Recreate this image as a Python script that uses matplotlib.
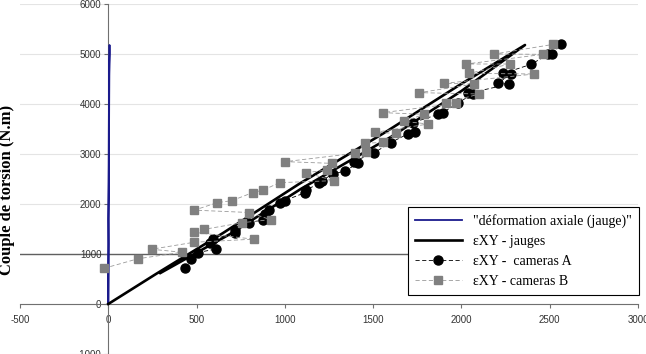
import matplotlib.pyplot as plt

# déformation axiale (jauge) - quasi verticale près de x=0
axiale_x = [0, 1, 2, 1, 3, 4, 5, 6, 8, 7, 5, 3, 1, 0]
axiale_y = [0, 600, 1200, 1700, 2400, 3200, 4000, 4600, 5000, 5180, 4800, 3500, 1800, 0]

# εXY - jauges (charge puis décharge)
jauges_x = [0, 270, 650, 1080, 1580, 1980, 2360, 2000, 1600, 1090, 690, 295]
jauges_y = [0, 600, 1420, 2400, 3460, 4360, 5180, 4260, 3340, 2300, 1400, 620]

# εXY - cameras A
camA_x = [436, 468, 508, 611, 577, 591, 717, 718, 796, 876, 890, 911, 971, 1000,
          1115, 1121, 1194, 1209, 1272, 1341, 1413, 1389, 1507, 1600, 1696, 1738,
          1723, 1870, 1894, 1983, 2064, 2040, 2271, 2206, 2281, 2238, 2394, 2492,
          2511, 2562]
camA_y = [713, 900, 1030, 1100, 1227, 1293, 1413, 1487, 1627, 1680, 1807, 1877,
          2020, 2070, 2227, 2280, 2413, 2467, 2600, 2660, 2813, 2847, 3027, 3230,
          3400, 3433, 3627, 3793, 3827, 4027, 4200, 4213, 4400, 4413, 4600, 4613,
          4793, 4993, 4993, 5193]

# εXY - cameras B
camB_x = [-25, 168, 417, 245, 487, 823, 487, 543, 760, 919, 798, 487, 617, 700,
          817, 879, 970, 1276, 1121, 1241, 1266, 1002, 1398, 1461, 1455, 1553,
          1630, 1511, 1813, 1672, 1790, 1555, 1970, 1913, 2102, 1762, 2072, 1904,
          2413, 2045, 2275, 2026, 2464, 2187, 2521]
camB_y = [713, 905, 1035, 1095, 1235, 1297, 1433, 1493, 1627, 1687, 1830, 1877,
          2027, 2067, 2227, 2280, 2427, 2467, 2627, 2680, 2813, 2847, 3013, 3047,
          3213, 3233, 3413, 3433, 3600, 3653, 3793, 3827, 4013, 4027, 4200, 4227,
          4400, 4413, 4600, 4613, 4800, 4800, 4993, 5000, 5193]

x_ticks = [-500, 0, 500, 1000, 1500, 2000, 2500, 3000]
y_ticks = [-1000, 0, 1000, 2000, 3000, 4000, 5000, 6000]

fig = plt.figure(figsize=(6.46, 3.54), dpi=100)
ax = fig.add_axes([20 / 646, 0, 618 / 646, 350 / 354])
ax.set_xlim(-500, 3000)
ax.set_ylim(-1000, 6000)

# grille horizontale légère
for yv in y_ticks:
    ax.axhline(yv, color='#e4e4e4', linewidth=0.8, zorder=0)
ax.axhline(1000, color='#606060', linewidth=1.0, zorder=1)

ax.plot(axiale_x, axiale_y, color='#1a1a8c', linewidth=1.3, zorder=3,
        label='"déformation axiale (jauge)"')
ax.plot(jauges_x, jauges_y, color='black', linewidth=1.9, zorder=4,
        label='εXY - jauges')
ax.plot(camA_x, camA_y, color='black', linestyle='--', dashes=(5, 3),
        linewidth=0.6, marker='o', markersize=6.5, markerfacecolor='black',
        markeredgecolor='black', zorder=5, label='εXY -  cameras A')
ax.plot(camB_x, camB_y, color='#9a9a9a', linestyle='--', dashes=(5, 3),
        linewidth=0.6, marker='s', markersize=6, markerfacecolor='#808080',
        markeredgecolor='#808080', zorder=5, label='εXY - cameras B')

for s in ['top', 'right']:
    ax.spines[s].set_visible(False)
ax.spines['left'].set_position(('data', 0))
ax.spines['bottom'].set_position(('data', 0))
ax.spines['left'].set_color('#707070')
ax.spines['bottom'].set_color('#707070')

ax.set_xticks(x_ticks)
ax.set_yticks(y_ticks)
ax.set_xticklabels([str(v) for v in x_ticks], family='Liberation Sans', fontsize=7)
ax.set_yticklabels([str(v) for v in y_ticks], family='Liberation Sans', fontsize=7)
ax.tick_params(axis='both', direction='out', length=3, color='#707070',
               labelcolor='#333333', pad=2)
ax.tick_params(axis='x', pad=5)
ax.patch.set_alpha(0)

fig.text(7 / 646, 1 - 190 / 354, 'Couple de torsion (N.m)', rotation=90,
         ha='center', va='center', family='Liberation Serif',
         fontweight='bold', fontsize=12)

leg = ax.legend(loc='upper left', bbox_to_anchor=(401 / 646, 1 - 200 / 354),
                bbox_transform=fig.transFigure, fancybox=False, framealpha=1,
                edgecolor='black', prop={'family': 'Liberation Serif', 'size': 10},
                handlelength=3.4, borderpad=0.5, labelspacing=0.5)
leg.get_frame().set_linewidth(0.8)
leg.set_zorder(10)

fig.savefig('out.png', dpi=100)
